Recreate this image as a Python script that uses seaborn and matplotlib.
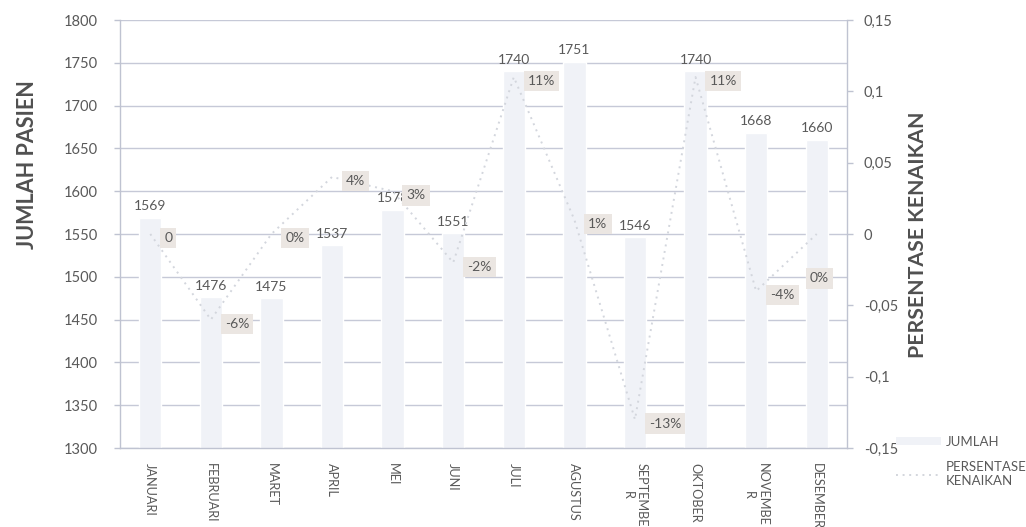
import numpy as np
import pandas as pd
import matplotlib
matplotlib.use("Agg")
import matplotlib.pyplot as plt
from matplotlib.ticker import FuncFormatter, MultipleLocator
from matplotlib.patches import Patch
from matplotlib.lines import Line2D
import seaborn as sns

# Monthly patient counts and month-over-month change
months = ["JANUARI", "FEBRUARI", "MARET", "APRIL", "MEI", "JUNI", "JULI",
          "AGUSTUS", "SEPTEMBE\nR", "OKTOBER", "NOVEMBE\nR", "DESEMBER"]
jumlah = [1569, 1476, 1475, 1537, 1578, 1551, 1740, 1751, 1546, 1740, 1668, 1660]
kenaikan = [0.00, -0.06, 0.00, 0.04, 0.03, -0.02, 0.11, 0.01, -0.13, 0.11, -0.04, 0.00]

df = pd.DataFrame({"bulan": months, "jumlah": jumlah, "kenaikan": kenaikan})

sns.set_theme(style="white")
plt.rcParams["font.family"] = ["Lato", "DejaVu Sans"]

TXT = "#595959"
BAR = "#f0f2f7"
GRID = "#c6c9d7"
SPINE = "#bfc3d1"
LINE = "#d3d6dd"
BOX = "#ebe6e2"
DOT = (0, (1, 2.4))

fig = plt.figure(figsize=(10.26, 5.27), dpi=100)
ax = fig.add_axes([120 / 1026, 1 - 448 / 527, 727 / 1026, 428 / 527])

sns.barplot(data=df, x="bulan", y="jumlah", color=BAR, saturation=1,
            width=0.37, ax=ax, zorder=2)
ax.set_ylim(1300, 1800)
ax.yaxis.set_major_locator(MultipleLocator(50))
ax.set_axisbelow(True)
ax.grid(axis="y", color=GRID, linewidth=1.0)
ax.grid(axis="x", visible=False)
ax.set_xlabel("")
ax.set_ylabel("")
for s in ["top", "right"]:
    ax.spines[s].set_visible(False)
for s in ["left", "bottom"]:
    ax.spines[s].set_color(SPINE)
    ax.spines[s].set_linewidth(1.0)
ax.tick_params(axis="y", which="major", left=True, length=4, width=1,
               color=SPINE, labelcolor=TXT, labelsize=10.5, pad=12)
ax.tick_params(axis="x", bottom=False, labelcolor=TXT, labelsize=9.2, pad=5)
for lab in ax.get_xticklabels():
    lab.set_rotation(-90)
    lab.set_va("top")
    lab.set_ha("center")
    lab.set_multialignment("center")

ax.bar_label(ax.containers[0], labels=[str(v) for v in jumlah], padding=4,
             color=TXT, fontsize=10)

# Secondary axis: percentage change
ax2 = ax.twinx()
ax2.set_zorder(ax.get_zorder() + 1)
ax2.patch.set_visible(False)
pos = np.arange(len(months))
sns.lineplot(x=pos, y=kenaikan, ax=ax2, color=LINE, linewidth=1.4,
             linestyle=DOT, zorder=3)
ax2.set_ylim(-0.15, 0.15)
ax2.yaxis.set_major_locator(MultipleLocator(0.05))
ax2.yaxis.set_major_formatter(
    FuncFormatter(lambda v, _: ("%g" % round(v, 2)).replace(".", ",")))
ax.set_xlim(-0.5, len(months) - 0.5)
ax2.set_xlim(-0.5, len(months) - 0.5)
for s in ["top", "left", "bottom"]:
    ax2.spines[s].set_visible(False)
ax2.spines["right"].set_color(SPINE)
ax2.spines["right"].set_linewidth(1.0)
ax2.tick_params(axis="y", right=True, length=4, width=1, color=SPINE,
                labelcolor=TXT, labelsize=10.5, pad=8)
ax2.set_ylabel("")

for i, v in enumerate(kenaikan):
    txt = "0" if i == 0 else f"{round(v * 100):.0f}%"
    dx, dy = 10, -3
    if i == len(kenaikan) - 1:
        dx, dy = -5, -32
    ax2.annotate(txt, (pos[i], v), xytext=(dx, dy), textcoords="offset points",
                 ha="left", va="center", color=TXT, fontsize=10, zorder=5,
                 bbox=dict(boxstyle="square,pad=0.3", fc=BOX, ec="none"))

fig.text(28 / 1026, 1 - 165 / 527, "JUMLAH PASIEN", rotation=90,
         ha="center", va="center", fontsize=15.5, fontweight="bold", color="#505050")
fig.text(918 / 1026, 1 - 235 / 527, "PERSENTASE KENAIKAN", rotation=90,
         ha="center", va="center", fontsize=15.3, fontweight="bold", color="#505050")

handles = [Patch(facecolor=BAR, edgecolor="none"),
           Line2D([], [], color=LINE, linewidth=1.4, linestyle=DOT)]
fig.legend(handles, ["JUMLAH", "PERSENTASE\nKENAIKAN"], loc="upper left",
           bbox_to_anchor=(884 / 1026, 1 - 424 / 527), frameon=False,
           handlelength=3.4, handleheight=0.5, labelspacing=1.0,
           handletextpad=0.4, fontsize=9.5, labelcolor=TXT)

fig.savefig("out.png", dpi=100)
